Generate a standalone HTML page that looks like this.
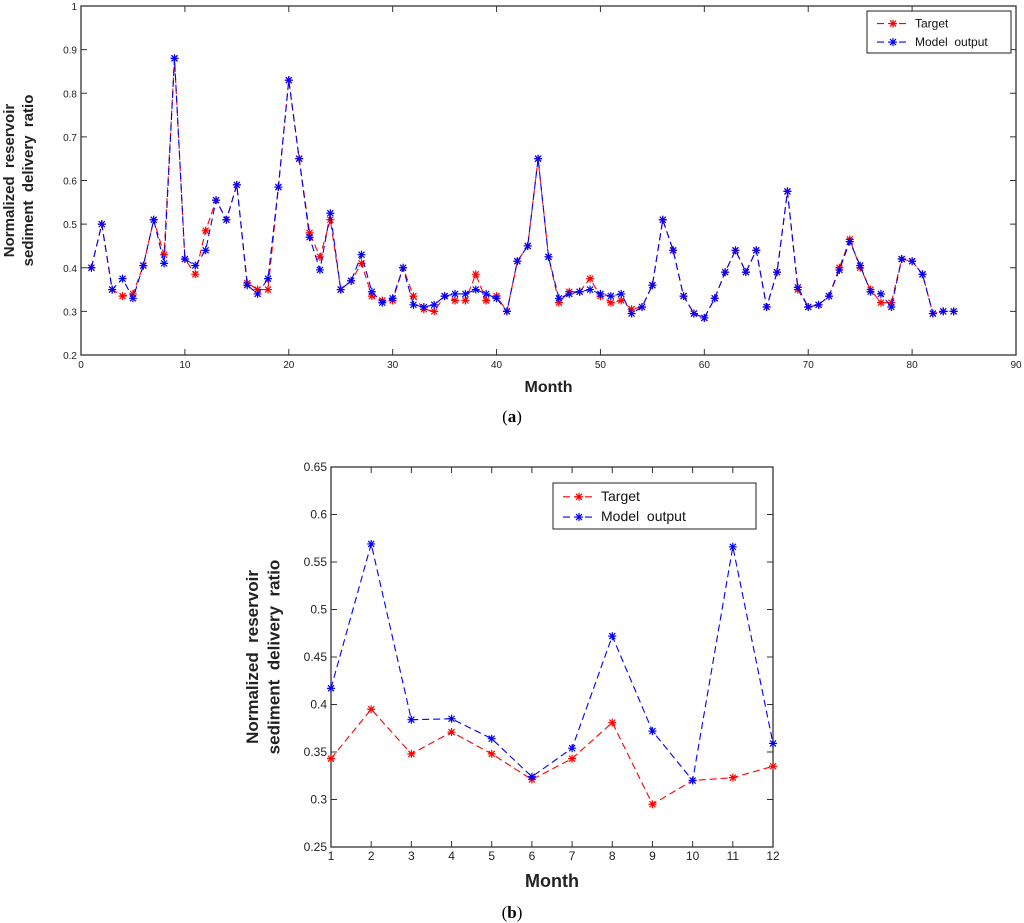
<!DOCTYPE html>
<html><head><meta charset="utf-8"><style>
body{margin:0;background:#fff;}
svg{display:block;font-family:"Liberation Sans",Arial,sans-serif;}
</style></head><body>
<svg id="fig" width="1024" height="923" viewBox="0 0 1024 923" xmlns="http://www.w3.org/2000/svg"></svg>
<script>
// ---- Chart (a) data ----
const monthsA = Array.from({length:84},(_,i)=>i+1);
const modelA = [.40,.50,.35,.375,.33,.405,.51,.41,.88,.42,.405,.44,.555,.51,.59,.36,.34,.375,.585,.83,.65,.47,.395,.525,.35,.37,.43,.345,.32,.33,.40,.315,.31,.315,.335,.34,.34,.35,.34,.33,.30,.415,.45,.65,.425,.33,.34,.345,.35,.34,.335,.34,.295,.31,.36,.51,.44,.335,.295,.285,.33,.39,.44,.39,.44,.31,.39,.575,.355,.31,.315,.335,.395,.46,.405,.345,.34,.31,.42,.415,.385,.295,.30,.30];
const targetA = [.40,.50,.35,.335,.34,.405,.51,.43,.88,.42,.385,.485,.555,.51,.59,.365,.35,.35,.585,.83,.65,.48,.425,.51,.35,.37,.41,.335,.325,.325,.40,.335,.305,.30,.335,.325,.325,.385,.325,.335,.30,.415,.45,.65,.425,.32,.345,.345,.375,.335,.32,.325,.305,.31,.36,.51,.44,.335,.295,.285,.33,.39,.44,.39,.44,.31,.39,.575,.35,.31,.315,.335,.40,.465,.40,.35,.32,.32,.42,.415,.385,.295,.30,.30];
const xTicksA = [0,10,20,30,40,50,60,70,80,90];
const yTicksA = [0.2,0.3,0.4,0.5,0.6,0.7,0.8,0.9,1];
// ---- Chart (b) data ----
const monthsB = [1,2,3,4,5,6,7,8,9,10,11,12];
const modelB = [.417,.569,.384,.385,.364,.324,.354,.472,.372,.320,.566,.359];
const targetB = [.343,.395,.348,.371,.348,.321,.343,.381,.295,.320,.323,.335];
const xTicksB = [1,2,3,4,5,6,7,8,9,10,11,12];
const yTicksB = [0.25,0.3,0.35,0.4,0.45,0.5,0.55,0.6,0.65];

const NS="http://www.w3.org/2000/svg";
const svg=document.getElementById('fig');
function mk(tag,attrs,parent){const e=document.createElementNS(NS,tag);for(const k in attrs)e.setAttribute(k,attrs[k]);(parent||svg).appendChild(e);return e;}
function txt(s,attrs,parent){const e=mk('text',attrs,parent);e.textContent=s;return e;}
function star(g,x,y,c){
  const p=mk('path',{d:`M${x-4} ${y}H${x+4}M${x} ${y-4}V${y+4}M${x-3} ${y-3}L${x+3} ${y+3}M${x-3} ${y+3}L${x+3} ${y-3}`,stroke:c,'stroke-width':1.2,fill:'none'},g);
  
  
}
function chart(o){
  const g=mk('g',{});
  
  
  const sx=v=>o.L+(v-o.x0)/(o.x1-o.x0)*(o.R-o.L);
  const sy=v=>o.B-(v-o.y0)/(o.y1-o.y0)*(o.B-o.T);
  const frame=mk('rect',{x:o.L,y:o.T,width:o.R-o.L,height:o.B-o.T,fill:'#fff',stroke:'#333','stroke-width':1.3},g);
  
  
  o.xt.forEach(v=>{const x=sx(v);
    mk('path',{d:`M${x} ${o.B}V${o.B-6}M${x} ${o.T}V${o.T+6}`,stroke:'#333'},g);
    const t=txt(String(v),{x:x,y:o.B+13,'font-size':o.fs,'text-anchor':'middle',fill:'#222'},g);
    
    
  });
  o.yt.forEach(v=>{const y=sy(v);
    mk('path',{d:`M${o.L} ${y}H${o.L+6}M${o.R} ${y}H${o.R-6}`,stroke:'#333'},g);
    const t=txt(String(v),{x:o.L-4,y:y+4,'font-size':o.fs,'text-anchor':'end',fill:'#222'},g);
    
    
  });
  [[o.target,'#f00','target-line'],[o.model,'#00f','model-output-line']].forEach(([d,c,n])=>{
    const s=mk('g',{},g);
    
    
    mk('polyline',{points:d.map((v,i)=>sx(o.xs[i])+','+sy(v)).join(' '),fill:'none',stroke:c,'stroke-width':1.1,'stroke-dasharray':'7,4'},s);
    d.forEach((v,i)=>star(s,sx(o.xs[i]),sy(v),c));
  });
  const lg=mk('g',{},g);
  
  
  mk('rect',{x:o.lx,y:o.ly,width:o.lw,height:o.lh,fill:'#fff',stroke:'#222','stroke-width':1},lg);
  [['Target','#f00'],['Model  output','#00f']].forEach(([s,c],i)=>{
    const y=o.ly+o.lh*(0.3+0.44*i);
    const e=mk('g',{},lg);
    
    
    mk('line',{x1:o.lx+10,x2:o.lx+10+o.ll,y1:y,y2:y,stroke:c,'stroke-dasharray':'7,4','stroke-width':1.1},e);
    star(e,o.lx+10+o.ll/2,y,c);
    txt(s,{x:o.lx+16+o.ll,y:y+4,'font-size':o.lfs,fill:'#111'},e).style.whiteSpace='pre';
  });
  const xt=txt('Month',{x:(o.L+o.R)/2,y:o.mY,'font-size':o.mfs,'text-anchor':'middle','font-weight':'bold',fill:'#222'},g);
  
  
  const yt=mk('g',{transform:`translate(${o.tX},${(o.T+o.B)/2}) rotate(-90)`},g);
  
  
  txt('Normalized  reservoir',{x:0,y:0,'font-size':o.tfs,'text-anchor':'middle','font-weight':'bold',fill:'#222'},yt).style.whiteSpace='pre';
  txt('sediment  delivery  ratio',{x:0,y:o.tfs*1.25,'font-size':o.tfs,'text-anchor':'middle','font-weight':'bold',fill:'#222'},yt).style.whiteSpace='pre';
  const cap=mk('text',{x:512,y:o.capY,'font-size':17,'text-anchor':'middle',fill:'#000','font-family':'Liberation Serif, serif'},g);
  
  
  cap.appendChild(document.createTextNode('('));
  const b=mk('tspan',{'font-weight':'bold'},cap); b.textContent=o.cap;
  cap.appendChild(document.createTextNode(')'));
}
chart({name:'chart-a',L:81,R:1016,T:6,B:355,x0:0,x1:90,y0:0.2,y1:1,xt:xTicksA,yt:yTicksA,xs:monthsA,model:modelA,target:targetA,fs:10,
  lx:867,ly:11,lw:144,lh:42,ll:32,lfs:12,mY:392,mfs:16,tX:14,tfs:15,cap:'a',capY:422});
chart({name:'chart-b',L:331,R:773,T:467,B:847,x0:1,x1:12,y0:0.25,y1:0.65,xt:xTicksB,yt:yTicksB,xs:monthsB,model:modelB,target:targetB,fs:12,
  lx:553,ly:483,lw:203,lh:46,ll:32,lfs:14,mY:887,mfs:18,tX:258,tfs:17,cap:'b',capY:918});
</script>
</body></html>
